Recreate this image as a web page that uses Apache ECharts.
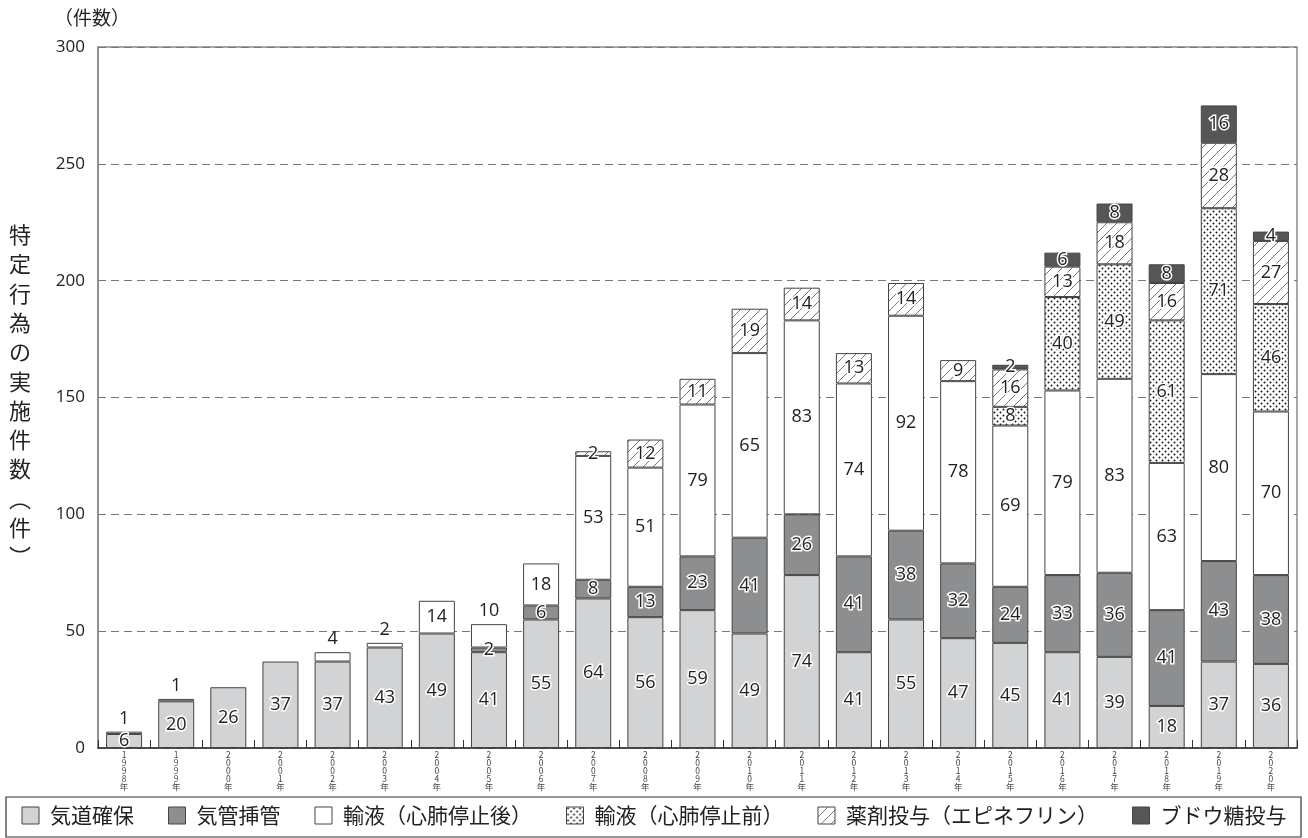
<!DOCTYPE html>
<html>
<head>
<meta charset="utf-8">
<script src="https://cdn.jsdelivr.net/npm/echarts@6/dist/echarts.min.js"></script>
<style>
html,body{margin:0;padding:0;background:#fff;}
#chart{width:1308px;height:838px;}
</style>
</head>
<body>
<div id="chart"></div>
<script>
// ---- data ----
const years = ['1998','1999','2000','2001','2002','2003','2004','2005','2006','2007','2008','2009','2010','2011','2012','2013','2014','2015','2016','2017','2018','2019','2020'];
const airway      = [6,20,26,37,37,43,49,41,55,64,56,59,49,74,41,55,47,45,41,39,18,37,36];
const intubation  = [0,0,0,0,0,0,0,2,6,8,13,23,41,26,41,38,32,24,33,36,41,43,38];
// bar heights of 輸液（心肺停止後） as drawn in the picture
const fluidAfter  = [1,1,0,0,4,2,14,10,18,53,51,65,79,83,74,92,78,69,79,83,63,80,70];
// numbers printed on those segments (2009 / 2010 are printed swapped in the source)
const fluidAfterPrinted = [1,1,0,0,4,2,14,10,18,53,51,79,65,83,74,92,78,69,79,83,63,80,70];
const fluidBefore = [0,0,0,0,0,0,0,0,0,0,0,0,0,0,0,0,0,8,40,49,61,71,46];
const epinephrine = [0,0,0,0,0,0,0,0,0,2,12,11,19,14,13,14,9,16,13,18,16,28,27];
const glucose     = [0,0,0,0,0,0,0,0,0,0,0,0,0,0,0,0,0,2,6,8,8,16,4];
const seriesNames = ['気道確保','気管挿管','輸液（心肺停止後）','輸液（心肺停止前）','薬剤投与（エピネフリン）','ブドウ糖投与'];
const yTicks = [0,50,100,150,200,250,300];
const topLabelYears = ['1998','1999','2002','2003','2005']; // fluidAfter labels drawn above the bar

// ---- patterns ----
function dotPattern(){
  const c=document.createElement('canvas'); c.width=6; c.height=6;
  const x=c.getContext('2d'); x.fillStyle='#fff'; x.fillRect(0,0,6,6);
  x.fillStyle='#111';
  x.beginPath(); x.arc(1.5,1.5,0.95,0,Math.PI*2); x.fill();
  x.beginPath(); x.arc(4.5,4.5,0.95,0,Math.PI*2); x.fill();
  return c;
}
function hatchPattern(){
  const s=10;
  const c=document.createElement('canvas'); c.width=s; c.height=s;
  const x=c.getContext('2d'); x.fillStyle='#fff'; x.fillRect(0,0,s,s);
  x.strokeStyle='#666'; x.lineWidth=0.9;
  x.beginPath();
  x.moveTo(0,s); x.lineTo(s,0);
  x.moveTo(-s/2,s/2); x.lineTo(s/2,-s/2);
  x.moveTo(s/2,s*1.5); x.lineTo(s*1.5,s/2);
  x.stroke();
  return c;
}
const fills = [
  '#d2d3d5',
  '#8d8e90',
  '#ffffff',
  {image: dotPattern(), repeat:'repeat'},
  {image: hatchPattern(), repeat:'repeat'},
  '#555658'
];
const valueSets = [airway,intubation,fluidAfter,fluidBefore,epinephrine,glucose];

const labelBase = {
  show:true, position:'inside', fontSize:18, color:'#222',
  fontFamily:'Open Sans, Noto Sans, sans-serif',
  textBorderColor:'#fff', textBorderWidth:3,
  formatter: p => (p.seriesIndex===2 ? fluidAfterPrinted[p.dataIndex] : p.value)
};

const series = valueSets.map((vals,si)=>({
  name: seriesNames[si],
  type:'bar',
  stack:'total',
  barWidth:36,
  itemStyle:{color:fills[si], borderColor:'#444', borderWidth:1},
  label: labelBase,
  emphasis:{disabled:true},
  data: vals.map((v,i)=>{
    if(v===0) return '-';
    if(si===2 && topLabelYears.includes(years[i])){
      return {value:v, label:{position:'top', distance:4, textBorderWidth:0}};
    }
    return v;
  })
}));

const chart = echarts.init(document.getElementById('chart'));
chart.setOption({
  animation:false,
  backgroundColor:'#fff',
  grid:{left:98, right:11, top:47, bottom:90, show:true, borderColor:'#8a8a8a', borderWidth:1.5},
  xAxis:{
    type:'category',
    data: years.map(y=>y.split('').join('\n')+'\n年'),
    axisLine:{lineStyle:{color:'#333', width:1.5}},
    axisTick:{show:true, inside:true, length:8, lineStyle:{color:'#333'}},
    axisLabel:{fontSize:8.5, lineHeight:8, color:'#444', margin:3, interval:0, fontFamily:'Noto Sans CJK JP'}
  },
  yAxis:{
    type:'value', min:yTicks[0], max:yTicks[yTicks.length-1], interval:50,
    axisLine:{show:true, lineStyle:{color:'#8a8a8a', width:1.5}},
    axisTick:{show:false},
    axisLabel:{fontSize:17, color:'#222', margin:13, fontFamily:'Open Sans, Noto Sans, sans-serif'},
    splitLine:{lineStyle:{color:'#777', type:[8,5], width:1}}
  },
  legend:{
    bottom:7, left:'center',
    itemWidth:17, itemHeight:17, itemGap:34,
    icon:'rect',
    itemStyle:{borderColor:'#444', borderWidth:1},
    textStyle:{fontSize:21, color:'#222', fontFamily:'Noto Sans CJK JP', padding:[0,0,0,6]},
    data: seriesNames
  },
  graphic:[
    {type:'rect', shape:{x:6, y:797, width:1295, height:40}, style:{fill:'none', stroke:'#333', lineWidth:1.2}, silent:true},
    {type:'text', left:54, top:8, style:{text:'（件数）', fontSize:19, fill:'#222', fontFamily:'Noto Sans CJK JP'}},
    {type:'text', left:9, top:220, style:{text:'特\n定\n行\n為\nの\n実\n施\n件\n数\n︵\n件\n︶', fontSize:22, lineHeight:29.3, fill:'#222', fontFamily:'Noto Sans CJK JP'}}
  ],
  series: series
});
</script>
</body>
</html>
